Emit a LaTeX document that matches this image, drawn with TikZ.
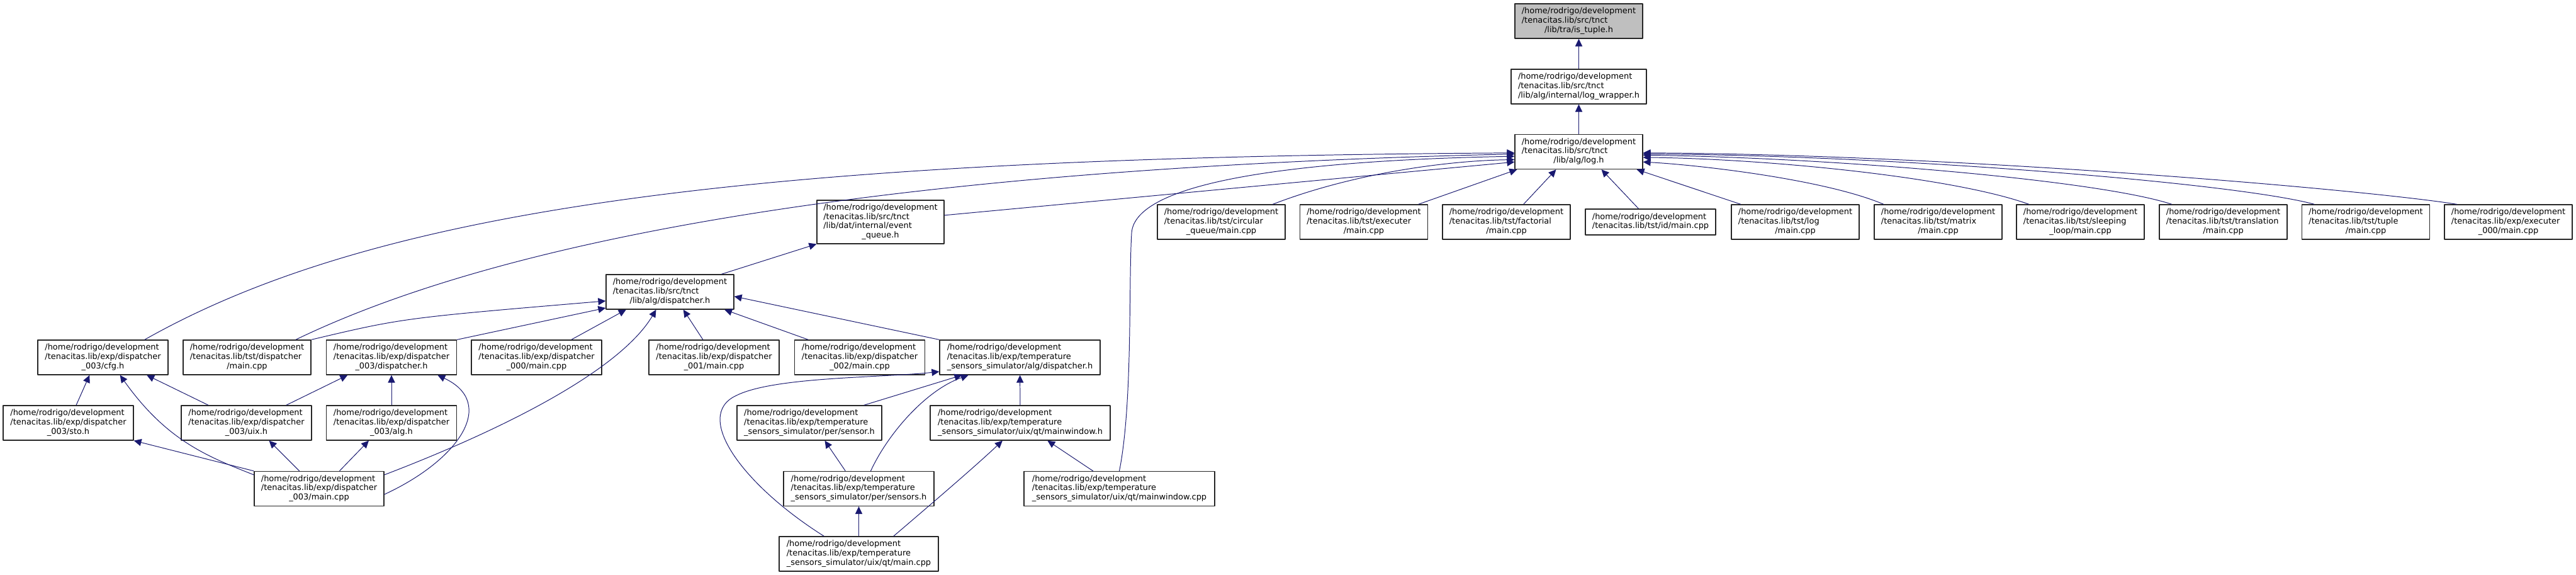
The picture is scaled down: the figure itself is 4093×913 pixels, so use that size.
\documentclass[tikz,border=0pt]{standalone}
\usepackage{fontspec}
\setmainfont{DejaVu Sans}
\usepackage{tikz}
\usetikzlibrary{arrows.meta}
\definecolor{edgeblue}{HTML}{191970}
\newcommand\flab[2]{\begin{tabular}{@{}l@{}}#1\\\multicolumn{1}{@{}c@{}}{#2}\end{tabular}}

\begin{document}
\begin{tikzpicture}[x=0.025cm, y=-0.025cm, line join=round,
    hdr/.style={draw=black!85, line width=0.9pt, fill=white, inner sep=0pt,
      minimum height=1.375cm, font=\fontsize{9.2}{10.5}\selectfont},
    wd/.style={minimum width=#1*0.025cm},
    two/.style={minimum height=1.025cm},
    four/.style={minimum height=1.725cm},
    inc/.style={draw=edgeblue, line width=0.7pt, -{Triangle[length=8.5pt,width=8pt]}}]
      \useasboundingbox (0,0) rectangle (4093,913);
      \def\home{/home/rodrigo/development}

      % levels 0 to 2
      \node[hdr, wd=203, fill=black!25] (istuple) at (2508.5,33.5) {\flab{\home\\/tenacitas.lib/src/tnct}{/lib/tra/is\_tuple.h}};
      \node[hdr, wd=215] (logwrap) at (2508.5,137.5) {\flab{\home\\/tenacitas.lib/src/tnct}{/lib/alg/internal/log\_wrapper.h}};
      \node[hdr, wd=203] (logh) at (2508.5,241) {\flab{\home\\/tenacitas.lib/src/tnct}{/lib/alg/log.h}};

      % level 3
      \def\yC{352.5}
      \node[hdr, wd=202, four] (evq) at (1399,\yC) {\flab{\home\\/tenacitas.lib/src/tnct\\/lib/dat/internal/event}{\_queue.h}};
      \node[hdr, wd=203] (circq) at (1940.5,\yC) {\flab{\home\\/tenacitas.lib/tst/circular}{\_queue/main.cpp}};
      \node[hdr, wd=203] (exec) at (2167,\yC) {\flab{\home\\/tenacitas.lib/tst/executer}{/main.cpp}};
      \node[hdr, wd=203] (fact) at (2393.5,\yC) {\flab{\home\\/tenacitas.lib/tst/factorial}{/main.cpp}};
      \node[hdr, wd=207, two] (id) at (2622.5,\yC) {\flab{\home}{/tenacitas.lib/tst/id/main.cpp}};
      \node[hdr, wd=203] (logm) at (2852.5,\yC) {\flab{\home\\/tenacitas.lib/tst/log}{/main.cpp}};
      \node[hdr, wd=203] (matrix) at (3079.5,\yC) {\flab{\home\\/tenacitas.lib/tst/matrix}{/main.cpp}};
      \node[hdr, wd=203] (sleep) at (3305.5,\yC) {\flab{\home\\/tenacitas.lib/tst/sleeping}{\_loop/main.cpp}};
      \node[hdr, wd=203] (transl) at (3532.5,\yC) {\flab{\home\\/tenacitas.lib/tst/translation}{/main.cpp}};
      \node[hdr, wd=203] (tuple) at (3759,\yC) {\flab{\home\\/tenacitas.lib/tst/tuple}{/main.cpp}};
      \node[hdr, wd=203] (exec0) at (3985.5,\yC) {\flab{\home\\/tenacitas.lib/exp/executer}{\_000/main.cpp}};

      % level 4 and 5
      \node[hdr, wd=203] (algdisp) at (1064.5,463.5) {\flab{\home\\/tenacitas.lib/src/tnct}{/lib/alg/dispatcher.h}};
      \def\yE{567.5}
      \node[hdr, wd=207] (cfg) at (163.5,\yE) {\flab{\home\\/tenacitas.lib/exp/dispatcher}{\_003/cfg.h}};
      \node[hdr, wd=203] (tstdisp) at (392.5,\yE) {\flab{\home\\/tenacitas.lib/tst/dispatcher}{/main.cpp}};
      \node[hdr, wd=207] (disp3) at (622,\yE) {\flab{\home\\/tenacitas.lib/exp/dispatcher}{\_003/dispatcher.h}};
      \node[hdr, wd=207] (m000) at (852.5,\yE) {\flab{\home\\/tenacitas.lib/exp/dispatcher}{\_000/main.cpp}};
      \node[hdr, wd=207] (m001) at (1134.5,\yE) {\flab{\home\\/tenacitas.lib/exp/dispatcher}{\_001/main.cpp}};
      \node[hdr, wd=207] (m002) at (1366,\yE) {\flab{\home\\/tenacitas.lib/exp/dispatcher}{\_002/main.cpp}};
      \node[hdr, wd=255] (tempdisp) at (1620.5,\yE) {\flab{\home\\/tenacitas.lib/exp/temperature}{\_sensors\_simulator/alg/dispatcher.h}};

      % level 6 to 8
      \def\yF{671.5}
      \node[hdr, wd=207] (sto) at (108.5,\yF) {\flab{\home\\/tenacitas.lib/exp/dispatcher}{\_003/sto.h}};
      \node[hdr, wd=207] (uix) at (391.5,\yF) {\flab{\home\\/tenacitas.lib/exp/dispatcher}{\_003/uix.h}};
      \node[hdr, wd=207] (algh) at (622,\yF) {\flab{\home\\/tenacitas.lib/exp/dispatcher}{\_003/alg.h}};
      \node[hdr, wd=230] (sensor) at (1286,\yF) {\flab{\home\\/tenacitas.lib/exp/temperature}{\_sensors\_simulator/per/sensor.h}};
      \node[hdr, wd=286] (mainwinh) at (1621,\yF) {\flab{\home\\/tenacitas.lib/exp/temperature}{\_sensors\_simulator/uix/qt/mainwindow.h}};
      \node[hdr, wd=206] (main3) at (507,776) {\flab{\home\\/tenacitas.lib/exp/dispatcher}{\_003/main.cpp}};
      \node[hdr, wd=239] (sensors) at (1364.5,776) {\flab{\home\\/tenacitas.lib/exp/temperature}{\_sensors\_simulator/per/sensors.h}};
      \node[hdr, wd=303] (mainwincpp) at (1778.5,776) {\flab{\home\\/tenacitas.lib/exp/temperature}{\_sensors\_simulator/uix/qt/mainwindow.cpp}};
      \node[hdr, wd=253] (qtmain) at (1364.5,879.5) {\flab{\home\\/tenacitas.lib/exp/temperature}{\_sensors\_simulator/uix/qt/main.cpp}};

      % includes of the top chain
      \draw[inc] (logwrap) -- (istuple);
      \draw[inc] (logh) -- (logwrap);

      % includes of log.h, left side
      \draw[inc] (cfg.23) .. controls (600,330) and (1200,250) .. (logh.181);
      \draw[inc] (tstdisp.20) .. controls (800,380) and (1400,268) .. (logh.182);
      \draw[inc] (evq.6) -- (logh.189);
      \draw[inc] (circq.19) .. controls (2150,275) and (2300,255) .. (logh.187);
      \draw[inc] (mainwincpp.north) .. controls (1800,640) and (1793,450) .. (1798,370)
                 .. controls (1803,290) and (2050,255) .. (logh.184);
      % bottom side
      \draw[inc] (exec.18) -- (logh.196);
      \draw[inc] (fact.46) -- (logh.218);
      \draw[inc] (id.132) -- (logh.-38);
      \draw[inc] (logm.162) -- (logh.-17);
      % right side
      \draw[inc] (matrix.162) .. controls (2900,285) and (2700,262) .. (logh.-9);
      \draw[inc] (sleep.161) .. controls (3100,280) and (2800,252) .. (logh.-5);
      \draw[inc] (transl.161) .. controls (3330,285) and (2900,250) .. (logh.-3);
      \draw[inc] (tuple.161) .. controls (3550,290) and (3000,246) .. (logh.-2);
      \draw[inc] (exec0.161) .. controls (3750,300) and (3100,245) .. (logh.-1);

      % includes of event_queue.h and dispatcher.h
      \draw[inc] (algdisp.19) -- (evq.199);
      \draw[inc] (tstdisp.north east) .. controls (640,505) .. (algdisp.188);
      \draw[inc] (disp3.north east) -- (algdisp.194);
      \draw[inc] (m000.27) -- (algdisp.202);
      \draw[inc] (main3.12) .. controls (830,670) and (990,580) .. (algdisp.232);
      \draw[inc] (m001.122) -- (algdisp.-53);
      \draw[inc] (m002.161) -- (algdisp.-18);
      \draw[inc] (tempdisp.north west) -- (algdisp.-4);

      % dispatcher_003
      \draw[inc] (sto.66) -- (cfg.233);
      \draw[inc] (main3.168) .. controls (330,725) and (265,700) .. (cfg.-46);
      \draw[inc] (uix.155) -- (cfg.-22);
      \draw[inc] (uix.24) -- (disp3.202);
      \draw[inc] (algh) -- (disp3);
      \draw[inc] (main3.-5) .. controls (730,730) and (790,640) .. (disp3.-21);
      \draw[inc] (main3.north west) -- (sto.south east);
      \draw[inc] (main3.138) -- (uix.-38);
      \draw[inc] (main3.41) -- (algh.218);

      % temperature_sensors_simulator
      \draw[inc] (qtmain.153) .. controls (1180,770) and (1100,660) .. (1170,628)
                 .. controls (1230,598) and (1400,600) .. (tempdisp.190);
      \draw[inc] (sensor.18) -- (tempdisp.197);
      \draw[inc] (sensors.56) .. controls (1410,690) and (1470,620) .. (tempdisp.199);
      \draw[inc] (mainwinh) -- (tempdisp);
      \draw[inc] (sensors.127) -- (sensor.-49);
      \draw[inc] (qtmain) -- (sensors);
      \draw[inc] (qtmain.27) .. controls (1480,800) and (1550,740) .. (mainwinh.225);
      \draw[inc] (mainwincpp.146) -- (mainwinh.-33);

    \end{tikzpicture}
\end{document}
